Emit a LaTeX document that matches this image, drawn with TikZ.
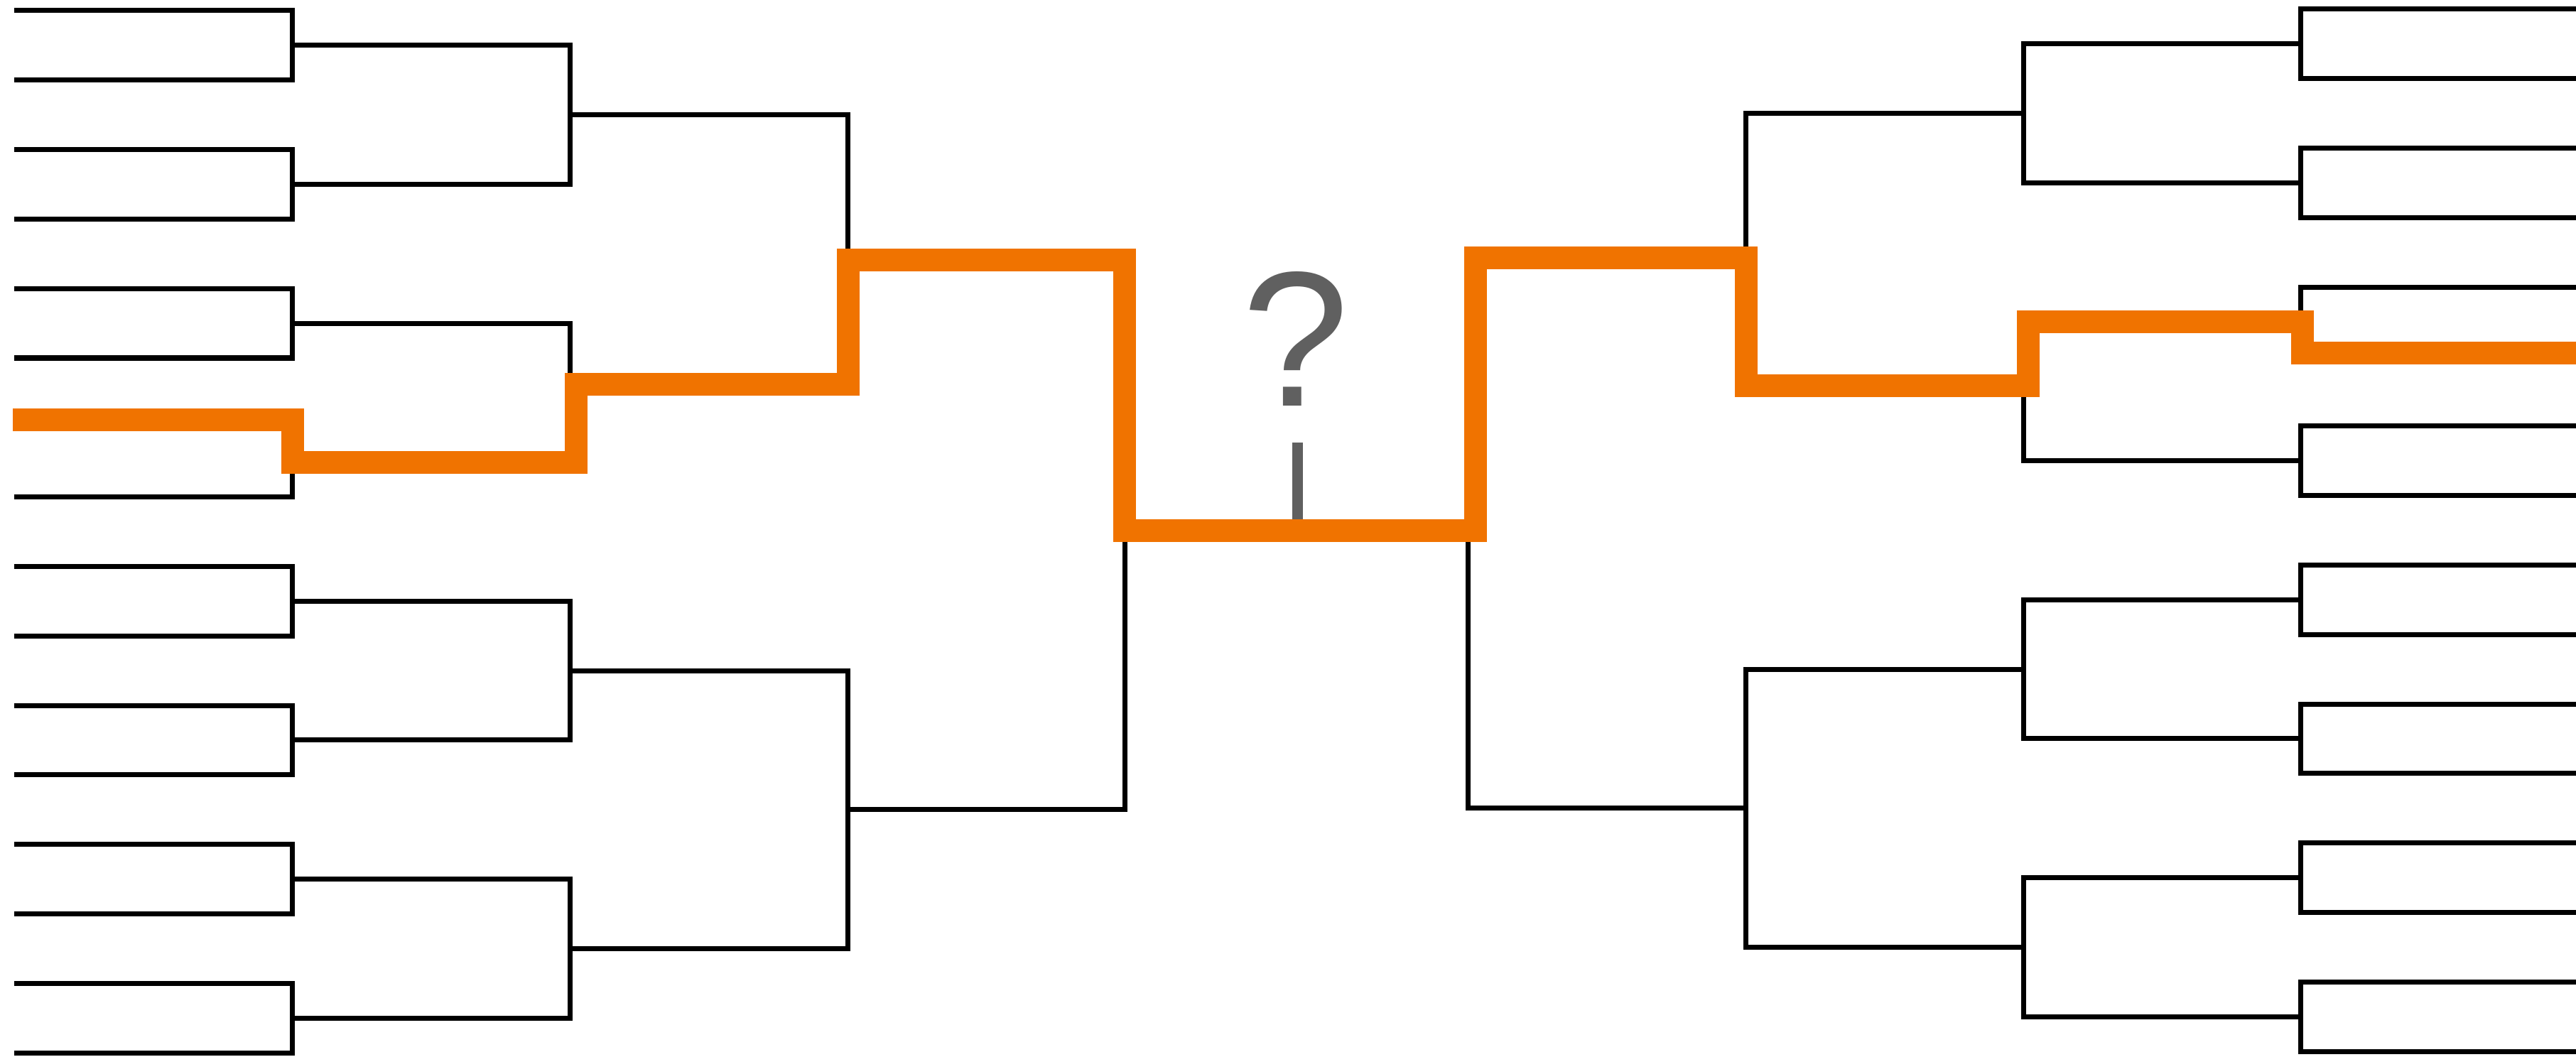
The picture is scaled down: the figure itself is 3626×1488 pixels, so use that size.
\documentclass[tikz,border=0pt]{standalone}
\usepackage{fontspec}
\setmainfont{Liberation Sans}
\definecolor{pathorange}{RGB}{240,115,0}
\definecolor{askgray}{RGB}{96,96,96}

\begin{document}
\begin{tikzpicture}[x=0.01cm, y=-0.01cm, line width=0.07cm]
  \useasboundingbox (0,0) rectangle (3626,1488);
  % row gap 97.8, first row y=15 (left) and y=13 (right)
  \def\gap{97.8}
  % left half of the bracket
  \foreach \r/\xa/\xb in {0/20/411, 1/411/802, 2/802/1193, 3/1193/1583} {
    \pgfmathtruncatemacro{\n}{8/2^\r-1}
    \foreach \k in {0,...,\n} {
      \pgfmathsetmacro{\ya}{15+\gap*(2^\r-1)/2+\gap*2^\r*2*\k}
      \pgfmathsetmacro{\yb}{\ya+\gap*2^\r}
      \draw (\xa,\ya) -- (\xb,\ya) -- (\xb,\yb) -- (\xa,\yb);
    }
  }
  % right half of the bracket
  \foreach \r/\xa/\xb in {0/3640/3238, 1/3238/2848, 2/2848/2457, 3/2457/2066} {
    \pgfmathtruncatemacro{\n}{8/2^\r-1}
    \foreach \k in {0,...,\n} {
      \pgfmathsetmacro{\ya}{13+\gap*(2^\r-1)/2+\gap*2^\r*2*\k}
      \pgfmathsetmacro{\yb}{\ya+\gap*2^\r}
      \draw (\xa,\ya) -- (\xb,\ya) -- (\xb,\yb) -- (\xa,\yb);
    }
  }
  % final
  \coordinate (FL) at (1583,748);
  \coordinate (FR) at (2066,748);
  \draw (FL) -- (FR);
  % question mark and its stem
  \node[anchor=base, inner sep=0pt, text=askgray,
        font=\fontsize{77}{77}\selectfont] (ask) at (1824,571) {?};
  \coordinate (stem) at (1826,623);
  \draw[askgray, line width=0.15cm] (stem) -- (stem |- FL);
  % winner path, left to right
  \coordinate (A) at (18,591);
  \coordinate (B) at (412,591);
  \coordinate (C) at (412,651);
  \coordinate (D) at (811,651);
  \coordinate (E) at (811,541);
  \coordinate (F) at (1194,541);
  \coordinate (G) at (1194,366);
  \coordinate (H) at (1583,366);
  \coordinate (I) at (1583,747);
  \coordinate (J) at (2077,747);
  \coordinate (K) at (2077,363);
  \coordinate (L) at (2458,363);
  \coordinate (M) at (2458,543);
  \coordinate (N) at (2855,543);
  \coordinate (O) at (2855,453);
  \coordinate (P) at (3241,453);
  \coordinate (Q) at (3241,497);
  \coordinate (R) at (3640,497);
  \draw[pathorange, line width=0.32cm]
    (A)--(B)--(C)--(D)--(E)--(F)--(G)--(H)--(I)--(J)--(K)--(L)--(M)--(N)--(O)--(P)--(Q)--(R);
\end{tikzpicture}
\end{document}
